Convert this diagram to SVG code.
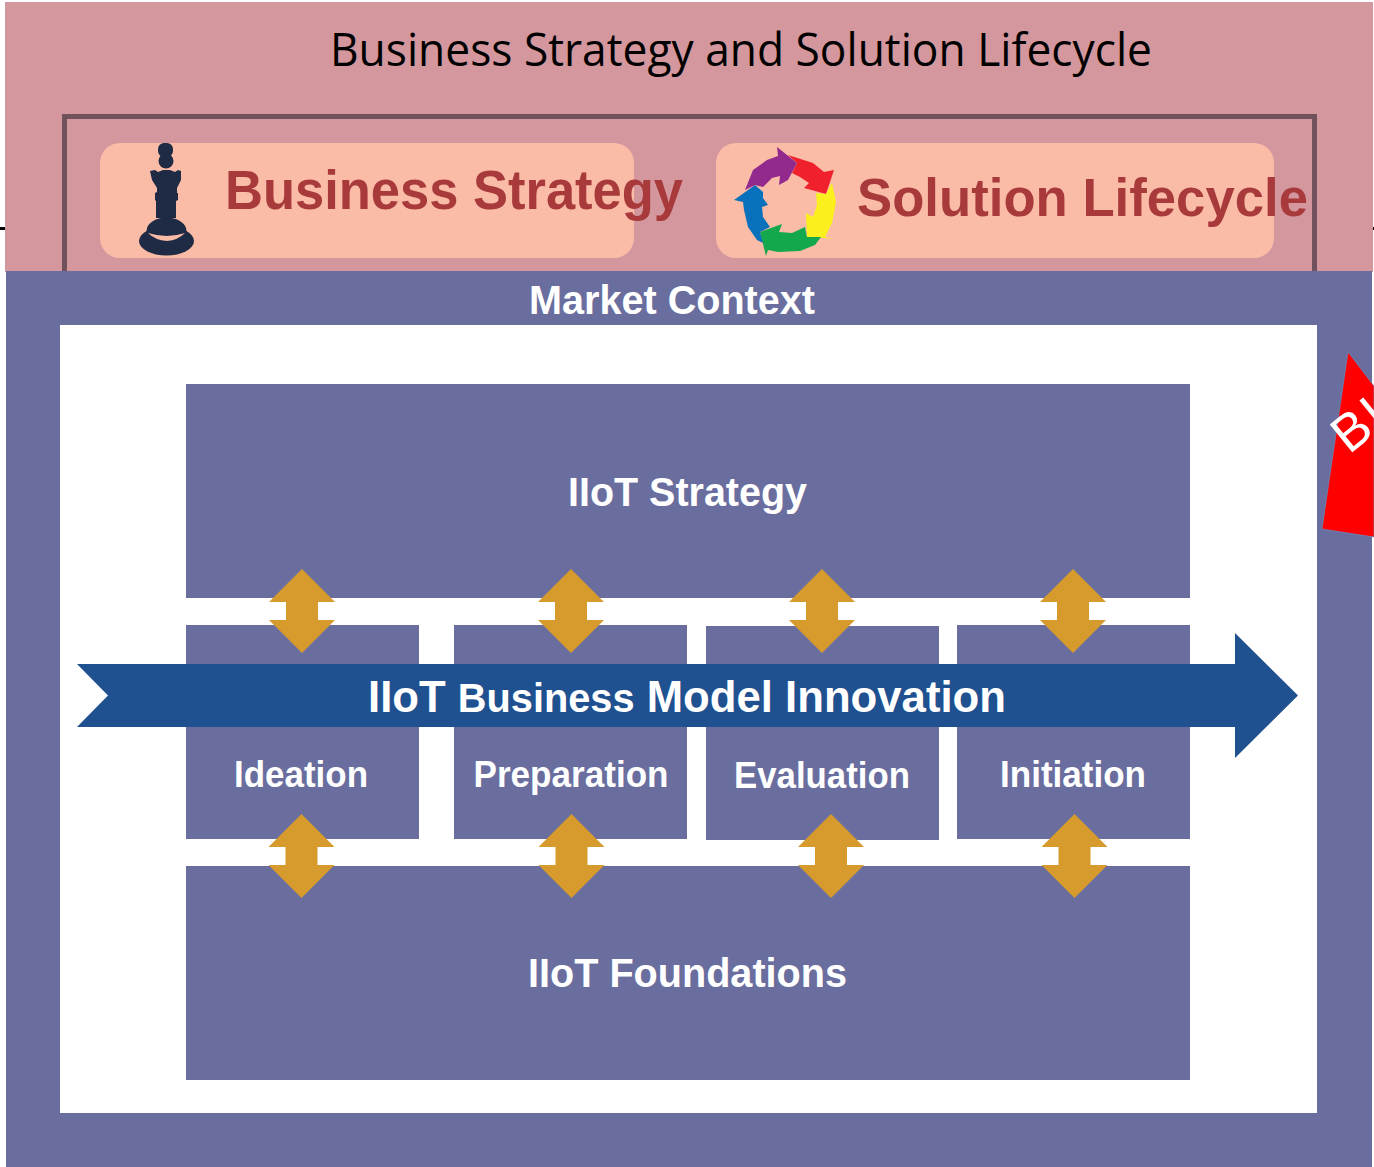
<svg xmlns="http://www.w3.org/2000/svg" width="1374" height="1167" viewBox="0 0 1374 1167">
<style>
.box{fill:#696e9f}
.lbl{font-family:"Liberation Sans",Arial,sans-serif;font-weight:bold;fill:#fff;text-anchor:middle}
.pill{fill:#fbbca7}
.plbl{font-family:"Liberation Sans",Arial,sans-serif;font-weight:bold;fill:#a83a3c}
</style>
<defs>
<polygon id="dbl" fill="#d69a2d" points="0,-42 33,-9 16,-9 16,9 33,9 0,42 -33,9 -16,9 -16,-9 -33,-9"/>
</defs>
<rect width="1374" height="1167" fill="#fff"/>
<g id="ticks"><rect x="0" y="227" width="6" height="3" fill="#000"/><rect x="1371" y="227" width="3" height="3" fill="#000"/></g>
<g id="business-lifecycle">
<rect x="5" y="2" width="1368" height="270" fill="#d3979d"/>
<text x="741" y="66" font-family="'Open Sans',sans-serif" font-size="46" fill="#000" text-anchor="middle" textLength="822" lengthAdjust="spacingAndGlyphs">Business Strategy and Solution Lifecycle</text>
<rect x="64.500" y="116.500" width="1250" height="170" fill="none" stroke="#6f525c" stroke-width="5"/>
</g>
<g id="business-strategy">
<rect class="pill" x="100" y="143" width="534" height="115" rx="20"/>
<g id="chess-icon" fill="#1f2a44">
<rect x="158" y="143" width="15" height="14" rx="6"/><ellipse cx="166" cy="161" rx="7.500" ry="7.500"/>
<polygon points="150,171 155,170 158,172 163,170 170,170 175,172 178,170 181,171 181,180 177,188 177,193 178,193 178,200 176,201 176,218 156,218 156,201 155,200 155,193 157,192 157,188 152,180"/>
<ellipse cx="166.500" cy="231" rx="20" ry="13.500"/>
<ellipse cx="166.500" cy="241" rx="27.500" ry="14.500"/>
<path d="M148,233 Q167,239 185,233 Q178,240 167,241 Q155,240 148,233Z" fill="#fbbca7"/>
</g>
<text class="plbl" x="225" y="209" font-size="56" textLength="458" lengthAdjust="spacingAndGlyphs">Business Strategy</text>
</g>
<g id="solution-lifecycle">
<rect class="pill" x="716" y="143" width="558" height="115" rx="20"/>
<g id="cycle-icon">
<polygon fill="#f0202c" points="788,155 813,163 824,172 834,170 826,194 804,188 809,183 800,177 792,173 797,163"/>
<polygon fill="#fbf01e" points="832,183 836,202 832,223 825,237 833,239 815,237 807,237 806,213 813,217 817,205 816,193 826,194"/>
<polygon fill="#14a84e" points="821,237 815,245 800,251 778,252 768,250 766,256 760,232 782,224 779,232 792,233 805,227 807,237"/>
<polygon fill="#0772bb" points="734,200 755,185 763,192 763,198 768,205 762,207 763,217 770,227 760,232 763,243 757,240 748,227 744,210 743,202"/>
<polygon fill="#922a8e" points="797,163 777,147 778,156 767,160 753,170 745,190 755,185 763,187 772,178 780,176 779,185 788,180"/>
</g>
<text class="plbl" x="857" y="216" font-size="54" textLength="451" lengthAdjust="spacingAndGlyphs">Solution Lifecycle</text>
</g>
<g id="market-context">
<rect class="box" x="6" y="271" width="1366" height="896"/>
<rect x="60" y="325" width="1257" height="788" fill="#fff"/>
<text class="lbl" x="672" y="314" font-size="40" textLength="286" lengthAdjust="spacingAndGlyphs">Market Context</text>
</g>
<g id="red-flag">
<polygon points="1348,352 1322,529 1374,537 1374,386" fill="#f00" stroke="#5b9bd5" stroke-width="0.600"/>
<text transform="translate(1349,455) rotate(-39)" font-family="'Liberation Sans',Arial,sans-serif" font-size="52" letter-spacing="3" fill="#fff">BI</text>
</g>
<g id="iiot-strategy"><rect class="box" x="186" y="384" width="1004" height="214"/><text class="lbl" x="687.500" y="506" font-size="40" textLength="239" lengthAdjust="spacingAndGlyphs">IIoT Strategy</text></g>
<g id="ideation"><rect class="box" x="186" y="625" width="233" height="214"/><text class="lbl" x="301" y="787" font-size="36" textLength="134" lengthAdjust="spacingAndGlyphs">Ideation</text></g>
<g id="preparation"><rect class="box" x="454" y="625" width="233" height="214"/><text class="lbl" x="571" y="787" font-size="36" textLength="195" lengthAdjust="spacingAndGlyphs">Preparation</text></g>
<g id="evaluation"><rect class="box" x="706" y="626" width="233" height="214"/><text class="lbl" x="822" y="788" font-size="36" textLength="176" lengthAdjust="spacingAndGlyphs">Evaluation</text></g>
<g id="initiation"><rect class="box" x="957" y="625" width="233" height="214"/><text class="lbl" x="1073" y="787" font-size="36" textLength="146" lengthAdjust="spacingAndGlyphs">Initiation</text></g>
<g id="iiot-foundations"><rect class="box" x="186" y="866" width="1004" height="214"/><text class="lbl" x="687.500" y="987" font-size="40" textLength="319" lengthAdjust="spacingAndGlyphs">IIoT Foundations</text></g>
<g id="bmi">
<polygon fill="#1f5090" points="77,664 1235,664 1235,633 1298,695.500 1235,758 1235,727 77,727 108,695.500"/>
<text class="lbl" x="687" y="712" font-size="44" textLength="638" lengthAdjust="spacingAndGlyphs">IIoT <tspan font-size="40">Business</tspan> Model Innovation</text>
</g>
<g id="connectors">
<use href="#dbl" x="302" y="611"/><use href="#dbl" x="571" y="611"/><use href="#dbl" x="822" y="611"/><use href="#dbl" x="1073" y="611"/>
<use href="#dbl" x="301.500" y="856"/><use href="#dbl" x="571.500" y="856"/><use href="#dbl" x="831" y="856"/><use href="#dbl" x="1074.500" y="856"/>
</g>
</svg>
